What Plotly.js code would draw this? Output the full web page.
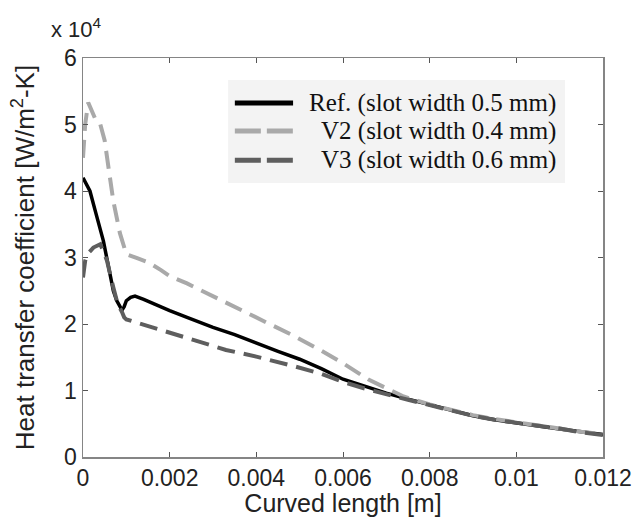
<!DOCTYPE html>
<html>
<head>
<meta charset="utf-8">
<script src="https://cdn.plot.ly/plotly-3.0.1.min.js"></script>
<style>html,body{margin:0;padding:0;background:#fff;}#chart{width:636px;height:517px;}</style>
</head>
<body>
<div id="chart"></div>
<script>
// Curved length [m]
const refX = [0, 0.00008, 0.00016, 0.0003, 0.00047, 0.00062, 0.0007, 0.00078, 0.00085, 0.0009, 0.00095, 0.001, 0.0011, 0.0012, 0.0014, 0.0017, 0.002, 0.0024, 0.003, 0.0035, 0.004, 0.0045, 0.005, 0.0055, 0.006, 0.0065, 0.007, 0.0075, 0.008, 0.0085, 0.009, 0.0095, 0.01, 0.0105, 0.011, 0.0115, 0.012];
// Heat transfer coefficient [W/m2-K]
const refY = [42000, 41000, 40000, 36600, 32500, 27600, 25000, 23500, 22800, 22100, 22600, 23500, 24000, 24200, 23700, 22800, 22000, 21000, 19500, 18400, 17100, 15900, 14700, 13300, 11700, 10600, 9600, 8700, 7900, 7000, 6200, 5600, 5100, 4600, 4200, 3800, 3400];

const v2X = [0, 0.00005, 0.00012, 0.0002, 0.0003, 0.0004, 0.0005, 0.0006, 0.0007, 0.00085, 0.001, 0.00125, 0.0015, 0.0018, 0.002, 0.0024, 0.003, 0.0037, 0.0043, 0.0049, 0.0055, 0.006, 0.0066, 0.007, 0.0074, 0.008, 0.0085, 0.009, 0.0095, 0.01, 0.0105, 0.011, 0.0115, 0.012];
const v2Y = [45000, 50000, 53300, 52000, 50600, 50000, 47600, 43000, 38500, 33700, 30500, 29900, 29300, 28100, 27200, 26100, 24200, 22000, 20000, 18100, 16000, 14100, 11600, 10300, 9100, 7900, 7100, 6300, 5700, 5200, 4700, 4300, 3800, 3400];

const v3X = [0, 0.00005, 0.0001, 0.00024, 0.0004, 0.00055, 0.0007, 0.0008, 0.0009, 0.00095, 0.001, 0.0013, 0.0016, 0.002, 0.0027, 0.0033, 0.004, 0.0045, 0.0049, 0.0055, 0.006, 0.0065, 0.007, 0.0075, 0.008, 0.0085, 0.009, 0.0095, 0.01, 0.0105, 0.011, 0.0115, 0.012];
const v3Y = [27000, 29500, 30500, 31500, 32000, 29600, 25500, 23000, 21800, 21000, 20700, 20100, 19500, 18600, 17200, 16100, 15100, 14300, 13600, 12500, 11300, 10300, 9400, 8600, 7800, 7000, 6200, 5600, 5100, 4700, 4300, 3700, 3300];

const seriesNames = ['Ref. (slot width 0.5 mm)', 'V2 (slot width 0.4 mm)', 'V3 (slot width 0.6 mm)'];

const xTickVals = [0, 0.002, 0.004, 0.006, 0.008, 0.01, 0.012];
const xTickText = ['0', '0.002', '0.004', '0.006', '0.008', '0.01', '0.012'];
const yTickVals = [0, 10000, 20000, 30000, 40000, 50000, 60000];
const yTickText = ['0', '1', '2', '3', '4', '5', '6'];

const seriesStyles = [
  {color: '#000000', width: 3.5, dash: 'solid'},
  {color: '#a9a9a9', width: 4, dash: '18px,9px'},
  {color: '#5e5e5e', width: 4, dash: '18px,9px'}
];
const legendDash = ['solid', '26px,6px', '26px,6px'];

const data = [[refX, refY], [v2X, v2Y], [v3X, v3Y]];
const traces = data.map((d, i) => ({
  x: d[0], y: d[1], name: seriesNames[i], mode: 'lines', showlegend: false,
  line: seriesStyles[i]
}));

// Legend drawn in paper coordinates (box, samples, labels)
const legX0 = 0.279, legX1 = 0.927, legY0 = 0.687, legY1 = 0.945;
const legRows = [0.887, 0.817, 0.744];
const shapes = [{
  type: 'rect', xref: 'paper', yref: 'paper', x0: legX0, x1: legX1, y0: legY0, y1: legY1,
  fillcolor: '#f3f3f3', line: {width: 0}, layer: 'above'
}];
const annotations = [];
legRows.forEach((ry, i) => {
  shapes.push({
    type: 'line', xref: 'paper', yref: 'paper', x0: 0.292, x1: 0.404, y0: ry, y1: ry,
    line: {color: seriesStyles[i].color, width: 5, dash: legendDash[i]}, layer: 'above'
  });
  annotations.push({
    xref: 'paper', yref: 'paper', x: 0.913, y: ry, xanchor: 'right', yanchor: 'middle',
    text: seriesNames[i], showarrow: false,
    font: {family: 'Liberation Serif, Times New Roman, serif', size: 25, color: '#111'}
  });
});
annotations.push({
  xref: 'paper', yref: 'paper', x: -0.065, y: 1.115, xanchor: 'left', yanchor: 'top',
  text: 'x 10<sup>4</sup>', showarrow: false,
  font: {family: 'Liberation Sans, Arial, sans-serif', size: 22, color: '#222'}
});

const axisCommon = {
  showgrid: false, zeroline: false, showline: true, linecolor: '#858585', linewidth: 1.5,
  mirror: 'ticks', ticks: 'inside', ticklen: 5, tickcolor: '#555', tickwidth: 1,
  tickfont: {family: 'Liberation Sans, Arial, sans-serif', size: 23, color: '#222'}
};

const layout = {
  width: 636, height: 517,
  margin: {l: 83, r: 33, t: 58, b: 60},
  paper_bgcolor: '#ffffff', plot_bgcolor: '#ffffff',
  showlegend: false,
  xaxis: Object.assign({}, axisCommon, {
    range: [0, 0.012], tickvals: xTickVals, ticktext: xTickText,
    title: {text: 'Curved length [m]', font: {family: 'Liberation Sans, Arial, sans-serif', size: 25, color: '#222'}, standoff: 5}
  }),
  yaxis: Object.assign({}, axisCommon, {
    range: [0, 60000], tickvals: yTickVals, ticktext: yTickText,
    title: {text: 'Heat transfer coefficient [W/m<sup>2</sup>-K]', font: {family: 'Liberation Sans, Arial, sans-serif', size: 26, color: '#222'}, standoff: 22}
  }),
  shapes: shapes,
  annotations: annotations
};

Plotly.newPlot('chart', traces, layout, {displayModeBar: false, staticPlot: true});
</script>
</body>
</html>
